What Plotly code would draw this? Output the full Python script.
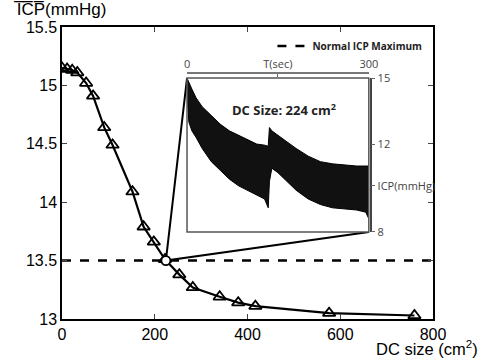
import plotly.graph_objects as go

# Main curve: DC size (cm^2) vs mean ICP (mmHg)
dc_size = [0, 11, 22, 33, 52, 67, 91, 109, 152, 176, 198, 222, 253, 282, 340, 380, 417, 576, 760]
icp_mean = [15.15, 15.14, 15.13, 15.11, 15.02, 14.91, 14.64, 14.49, 14.09, 13.79, 13.66, 13.51, 13.38, 13.27, 13.19, 13.14, 13.11, 13.05, 13.03]

# Selected case
dc_sel = 224
icp_sel = 13.5
normal_icp_max = 13.5

# Inset: ICP waveform envelope for DC size 224 cm^2
t_sec = [0, 3, 8, 15, 25, 40, 55, 70, 85, 100, 115, 128, 134, 136, 140, 150, 165, 180, 200, 220, 240, 260, 280, 295, 300]
icp_upper = [15.0, 14.8, 14.5, 14.1, 13.7, 13.3, 12.9, 12.6, 12.4, 12.2, 12.0, 11.95, 11.9, 12.75, 12.6, 12.4, 12.1, 11.8, 11.45, 11.2, 11.1, 11.05, 11.0, 11.0, 11.0]
icp_lower = [14.3, 13.0, 12.6, 12.3, 11.8, 11.2, 10.8, 10.4, 10.1, 9.9, 9.7, 9.5, 9.1, 10.3, 10.9, 10.7, 10.3, 9.9, 9.5, 9.25, 9.1, 9.05, 9.0, 8.9, 8.6]

x_range = [0, 800]
y_range = [13, 15.5]
t_range = [0, 300]
inset_y_range = [8, 15]
inset_xdom = [0.337, 0.827]
inset_ydom = [0.298, 0.825]

def to_main_x(frac):
    return x_range[0] + frac * (x_range[1] - x_range[0])

def to_main_y(frac):
    return y_range[0] + frac * (y_range[1] - y_range[0])

fig = go.Figure()

# dashed normal ICP max line
fig.add_trace(go.Scatter(x=x_range, y=[normal_icp_max, normal_icp_max], mode="lines",
                         line=dict(color="black", width=2.5, dash="dash"),
                         name="<b>Normal ICP Maximum</b>", showlegend=True,
                         xaxis="x", yaxis="y"))

# connector lines from selected point to inset corners
fig.add_trace(go.Scatter(
    x=[to_main_x(inset_xdom[0]), dc_sel, to_main_x(inset_xdom[1])],
    y=[to_main_y(inset_ydom[1]), icp_sel, to_main_y(inset_ydom[0])],
    mode="lines", line=dict(color="black", width=2), showlegend=False, hoverinfo="skip"))

# main curve
fig.add_trace(go.Scatter(x=dc_size, y=icp_mean, mode="lines+markers",
                         line=dict(color="black", width=2.2),
                         marker=dict(symbol="triangle-up-open", size=11, color="black",
                                     line=dict(width=1.8, color="black")),
                         showlegend=False))

fig.add_trace(go.Scatter(x=[dc_sel], y=[icp_sel], mode="markers",
                         marker=dict(symbol="circle", size=9, color="white",
                                     line=dict(width=1.8, color="black")),
                         showlegend=False))

# inset waveform band
fig.add_trace(go.Scatter(x=t_sec, y=icp_lower, mode="lines", line=dict(color="black", width=1),
                         xaxis="x2", yaxis="y2", showlegend=False))
fig.add_trace(go.Scatter(x=t_sec, y=icp_upper, mode="lines", line=dict(color="black", width=1),
                         fill="tonexty", fillcolor="#111",
                         xaxis="x2", yaxis="y2", showlegend=False))

tick_font = dict(family="Liberation Sans, Arial", size=16, color="black")
inset_font = dict(family="Open Sans, Noto Sans", size=11, color="#444")

fig.update_layout(
    width=484, height=360,
    margin=dict(l=62, r=51, t=27, b=41),
    paper_bgcolor="white", plot_bgcolor="white",
    xaxis=dict(range=x_range, tickvals=[0, 200, 400, 600, 800], ticks="inside", ticklen=5,
               showline=True, linecolor="black", linewidth=1.5, mirror="ticks",
               showgrid=False, zeroline=False, tickfont=tick_font, automargin=False),
    yaxis=dict(range=y_range, tickvals=[13, 13.5, 14, 14.5, 15, 15.5],
               ticktext=["13", "13.5", "14", "14.5", "15", "15.5"], ticks="inside", ticklen=5,
               showline=True, linecolor="black", linewidth=1.5, mirror="ticks",
               showgrid=False, zeroline=False, tickfont=tick_font, automargin=False),
    xaxis2=dict(domain=inset_xdom, range=t_range, anchor="free",
                position=inset_ydom[1] + 0.017, side="top",
                tickvals=[0, 150, 300], ticktext=["0", "T(sec)", "300"],
                ticks="inside", ticklen=3, tickcolor="#666",
                showline=True, linecolor="#777", linewidth=1.5,
                showgrid=False, zeroline=False, tickfont=inset_font, automargin=False),
    yaxis2=dict(domain=inset_ydom, range=inset_y_range, anchor="free",
                position=inset_xdom[1] + 0.005, side="right",
                tickvals=[8, 10.1, 12, 15], ticktext=["8", "ICP(mmHg)", "12", "15"],
                ticks="outside", ticklen=4, tickcolor="#666",
                showline=True, linecolor="#444", linewidth=1.5,
                showgrid=False, zeroline=False, tickfont=inset_font, automargin=False),
    legend=dict(x=0.985, y=0.985, xanchor="right", yanchor="top", bgcolor="rgba(0,0,0,0)",
                font=dict(family="Open Sans, Noto Sans", size=10, color="#222")),
    shapes=[dict(type="rect", xref="x2 domain", yref="y2 domain", x0=0, x1=1, y0=0, y1=1,
                 line=dict(color="#555", width=1.5))],
    annotations=[
        dict(text="I\u0305C\u0305P\u0305(mmHg)", xref="paper", yref="paper", x=-0.135, y=1.02,
             xanchor="left", yanchor="bottom", showarrow=False,
             font=dict(family="Liberation Sans, Arial", size=17, color="black")),
        dict(text="DC size (cm<sup>2</sup>)", xref="paper", yref="paper", x=1.127, y=-0.058,
             xanchor="right", yanchor="top", showarrow=False,
             font=dict(family="Liberation Sans, Arial", size=16.5, color="black")),
        dict(text="<b>DC Size: %d cm<sup>2</sup></b>" % dc_sel, xref="x2", yref="y2",
             x=160, y=13.55, showarrow=False,
             font=dict(family="Open Sans, Noto Sans", size=13, color="#222")),
    ],
)

fig.write_html("out.html", config={"displayModeBar": False},
               post_script="document.body.style.margin='0';")
